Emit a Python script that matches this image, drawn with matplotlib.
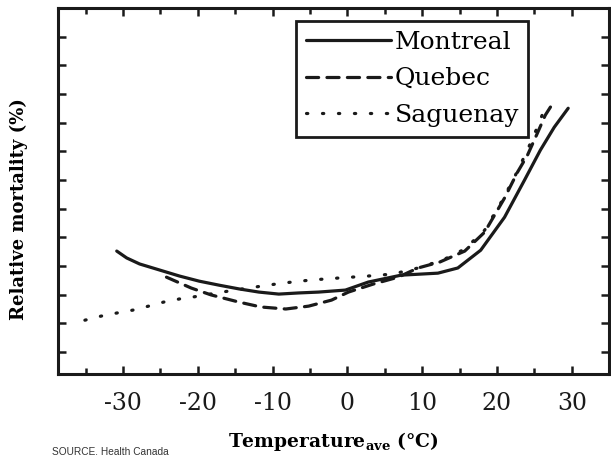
import matplotlib
matplotlib.use("Agg")
import matplotlib.pyplot as plt
import numpy as np

plt.rcParams['axes.unicode_minus'] = False
plt.rcParams['mathtext.fontset'] = 'custom'
plt.rcParams['mathtext.rm'] = 'DejaVu Serif:bold'
plt.rcParams['mathtext.bf'] = 'DejaVu Serif:bold'

# Data (temperature in °C, relative mortality in arbitrary tick units)
montreal_x = [-30.85, -29.52, -27.79, -25.13, -22.47, -19.81, -17.15, -14.49, -11.84, -9.18,
              -6.52, -3.86, -0.27, 2.79, 7.18, 12.10, 14.76, 17.82, 21.01, 23.67, 25.80, 27.66, 29.52]
montreal_y = [3.52, 3.28, 3.07, 2.86, 2.65, 2.47, 2.33, 2.20, 2.09, 2.02,
              2.06, 2.09, 2.16, 2.44, 2.68, 2.75, 2.93, 3.55, 4.70, 5.99, 7.04, 7.84, 8.50]

quebec_x = [-24.20, -20.88, -18.22, -14.49, -11.57, -8.24, -5.19, -2.13, 0.13, 3.46, 6.78,
            9.44, 12.37, 15.69, 18.35, 21.01, 22.74, 24.07, 25.40, 26.46, 27.39]
quebec_y = [2.61, 2.23, 1.99, 1.74, 1.57, 1.50, 1.60, 1.81, 2.09, 2.37, 2.61,
            2.93, 3.14, 3.52, 4.18, 5.37, 6.27, 6.86, 7.63, 8.26, 8.64]

saguenay_x = [-35.11, -32.98, -30.85, -28.72, -26.60, -24.60, -22.47, -20.61, -16.76, -12.50,
              -8.78, -4.92, -1.20, 2.79, 6.12, 9.44, 12.77, 15.69, 18.35, 20.74, 22.47, 24.07, 25.40, 26.46]
saguenay_y = [1.11, 1.25, 1.36, 1.46, 1.60, 1.74, 1.85, 1.92, 2.09, 2.26,
              2.40, 2.51, 2.58, 2.65, 2.72, 2.93, 3.21, 3.59, 4.25, 5.30, 6.17, 7.04, 7.84, 8.54]

x_ticks = [-30, -20, -10, 0, 10, 20, 30]
x_minor = [-35, -25, -15, -5, 5, 15, 25, 35]
y_ticks = list(range(0, 12))

serif = 'DejaVu Serif'
ink = '#1a1a1a'

fig = plt.figure(figsize=(6.11, 4.63), dpi=100)
ax = fig.add_axes([0.095, 0.192, 0.902, 0.791])

lw = 2.3
ax.plot(montreal_x, montreal_y, color=ink, lw=lw, solid_capstyle='round',
        solid_joinstyle='round', label='Montreal')
ax.plot(quebec_x, quebec_y, color=ink, lw=lw, linestyle=(0, (3.8, 2.6)),
        dash_capstyle='round', dash_joinstyle='round', label='Quebec')
ax.plot(saguenay_x, saguenay_y, color=ink, lw=lw, linestyle=(0, (0.4, 4.6)),
        dash_capstyle='round', label='Saguenay')

ax.set_xlim(-38.7, 34.6)
ax.set_ylim(-0.77, 12.0)

for s in ax.spines.values():
    s.set_linewidth(2.2)
    s.set_color(ink)

ax.set_xticks(x_ticks)
ax.set_xticklabels([str(v) for v in x_ticks], fontfamily=serif, fontsize=17)
ax.set_xticks(x_minor, minor=True)
ax.set_yticks(y_ticks)
ax.set_yticklabels([])
ax.tick_params(axis='x', which='major', direction='in', length=6, width=1.8, pad=13,
               top=True, colors=ink)
ax.tick_params(axis='x', which='minor', direction='in', length=4, width=1.8, top=True, colors=ink)
ax.tick_params(axis='y', which='major', direction='in', length=6, width=1.8, right=True, colors=ink)

ax.set_xlabel(r"Temperature$_{\mathrm{ave}}$ ($\degree$C)", fontfamily=serif, fontweight='bold',
              fontsize=13.5, labelpad=11)
ax.set_ylabel("Relative mortality (%)", fontfamily=serif, fontweight='bold', fontsize=13)
ax.yaxis.set_label_coords(-0.055, 0.45)

leg = ax.legend(loc='upper left', bbox_to_anchor=(0.432, 0.964), prop={'family': serif, 'size': 18},
                frameon=True, fancybox=False, framealpha=1, edgecolor=ink,
                handlelength=3.4, handletextpad=0.15, labelspacing=0.55, borderpad=0.38,
                borderaxespad=0)
leg.get_frame().set_linewidth(2.0)

fig.text(0.085, 0.018, "SOURCE. Health Canada", fontfamily='Liberation Sans', fontsize=7.3, color='#333333')

fig.savefig("out.png", dpi=100)
